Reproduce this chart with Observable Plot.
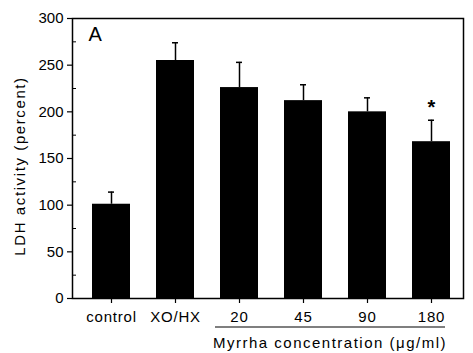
<!DOCTYPE html>
<html><head><meta charset="utf-8">
<script src="https://cdn.jsdelivr.net/npm/d3@7"></script>
<script src="https://cdn.jsdelivr.net/npm/@observablehq/plot@0.6"></script>
<style>
body{margin:0;background:#fff;}
#chart{width:473px;height:353px;}
#chart svg g[aria-label="x-axis tick label"] text{letter-spacing:0.8px;}
</style></head>
<body><div id="chart"></div>
<script>
const categories = ["control", "XO/HX", "20", "45", "90", "180"];
const values = [101, 255, 226, 212, 200, 168];
const errorTops = [114, 274, 253, 229, 215, 191];
const significant = [false, false, false, false, false, true];
const yTicks = [0, 50, 100, 150, 200, 250, 300];
const yMinorTicks = [25, 75, 125, 175, 225, 275];
const myrrhaDoses = ["20", "45", "90", "180"];
const yLabel = "LDH activity (percent)";
const xGroupLabel = "Myrrha concentration (\u03bcg/ml)";
const panelLetter = "A";

const data = categories.map((c, i) => ({cat: c, value: values[i], err: errorTops[i], sig: significant[i]}));
const font = "'Liberation Sans', Arial, sans-serif";
const W = 473, H = 353, mL = 72, mR = 10, mT = 18, mB = 55;

const plot = Plot.plot({
  width: W,
  height: H,
  marginLeft: mL,
  marginRight: mR,
  marginTop: mT,
  marginBottom: mB,
  style: {fontFamily: font, fontSize: "15px", background: "#fff", color: "#000", overflow: "visible"},
  x: {domain: categories, paddingInner: 0.4, paddingOuter: 0.21, align: 0.6},
  y: {domain: [0, 300]},
  marks: [
    Plot.barY(data, {x: "cat", y: "value", fill: "#000"}),
    Plot.ruleX(data, {x: "cat", y1: "value", y2: "err", stroke: "#000", strokeWidth: 1.5}),
    Plot.tickY(data, {x: "cat", y: "err", stroke: "#000", strokeWidth: 1.5, insetLeft: 16, insetRight: 16}),
    Plot.text(data.filter(d => d.sig), {x: "cat", y: d => d.err + 14, text: () => "*", fontSize: 20, fontWeight: "bold", fill: "#000"}),
    Plot.frame({stroke: "#000", strokeWidth: 1.5}),
    Plot.axisY({ticks: yTicks, tickSize: 5, tickPadding: 4, fontSize: 15, label: null, strokeWidth: 1.2}),
    Plot.axisY({ticks: yMinorTicks, tickSize: 4, dx: 4, tickFormat: () => "", label: null, strokeWidth: 1}),
    Plot.axisX({tickSize: 5, tickPadding: 8, fontSize: 15, label: null, strokeWidth: 1.2}),
    Plot.text([panelLetter], {frameAnchor: "top-left", dx: 16, dy: 8, fontSize: 20, textAnchor: "start", lineAnchor: "top", fill: "#000"})
  ]
});

document.getElementById("chart").appendChild(plot);

const svg = d3.select(plot);
const xs = plot.scale("x");
const bw = xs.bandwidth;
const c20 = xs.apply(myrrhaDoses[0]) + bw / 2;
const c180 = xs.apply(myrrhaDoses[myrrhaDoses.length - 1]) + bw / 2;
const x1 = c20 - 24;
const x2 = c180 + 14;
const yBase = H - mB;
svg.append("line").attr("x1", x1).attr("x2", x2).attr("y1", yBase + 29).attr("y2", yBase + 29)
  .attr("stroke", "#000").attr("stroke-width", 1.2);
svg.append("text").attr("x", (x1 + x2) / 2).attr("y", yBase + 50)
  .attr("text-anchor", "middle").attr("font-size", 15).attr("font-family", font)
  .attr("letter-spacing", "1.5px").attr("fill", "#000").text(xGroupLabel);

// Y axis title
const yMid = mT + (H - mT - mB) / 2 + 8;
svg.append("text").attr("transform", `translate(25,${yMid}) rotate(-90)`)
  .attr("text-anchor", "middle").attr("font-size", 15).attr("font-family", font)
  .attr("letter-spacing", "1.6px").attr("fill", "#000").text(yLabel);
</script>
</body></html>
